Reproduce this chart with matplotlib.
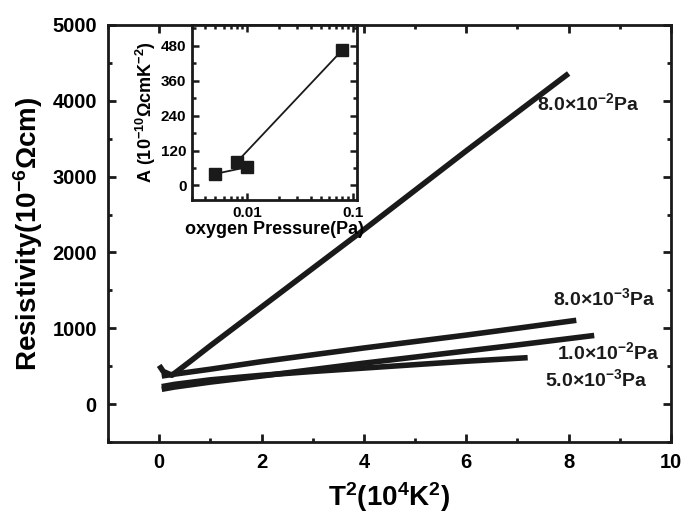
import matplotlib
matplotlib.use("Agg")
import matplotlib.pyplot as plt
from matplotlib.ticker import MultipleLocator, FixedLocator, LogLocator, NullFormatter

plt.rcParams['font.family'] = ['Liberation Sans', 'DejaVu Sans']
plt.rcParams['font.weight'] = 'bold'
plt.rcParams['mathtext.fontset'] = 'custom'
plt.rcParams['mathtext.rm'] = 'Liberation Sans:bold'
plt.rcParams['mathtext.bf'] = 'Liberation Sans:bold'
plt.rcParams['mathtext.default'] = 'bf'

# main panel: resistivity vs T^2, one curve per oxygen pressure
t2_p80 = [0.0, 0.08, 0.25, 0.6, 1.0, 2.0, 3.0, 4.0, 5.0, 6.0, 7.0, 8.0]
rho_p80 = [510, 430, 380, 560, 770, 1280, 1790, 2300, 2820, 3340, 3850, 4360]

t2_p8e3 = [0.05, 0.3, 1.0, 2.0, 3.0, 4.0, 5.0, 6.0, 7.0, 8.15]
rho_p8e3 = [370, 395, 460, 560, 650, 740, 825, 910, 1000, 1105]

t2_p1e2 = [0.05, 0.3, 1.0, 2.0, 3.0, 4.0, 5.0, 6.0, 7.0, 8.5]
rho_p1e2 = [195, 225, 290, 370, 455, 540, 620, 700, 780, 905]

t2_p5e3 = [0.05, 0.3, 1.0, 2.0, 3.0, 4.0, 5.0, 6.0, 7.2]
rho_p5e3 = [230, 260, 320, 380, 430, 475, 520, 565, 612]

curve_labels = [r"8.0×10$^{-2}$Pa", r"8.0×10$^{-3}$Pa",
                r"1.0×10$^{-2}$Pa", r"5.0×10$^{-3}$Pa"]
label_x = [7.39, 7.69, 7.78, 7.53]
label_y = [3970, 1400, 680, 330]

# inset: coefficient A vs oxygen pressure (original plotting order)
pressure = [0.005, 0.01, 0.008, 0.08]
coef_a = [40, 63, 81, 466]

fig = plt.figure(figsize=(6.83, 5.14), dpi=100)
ax = fig.add_axes([0.1581, 0.1401, 0.8243, 0.8113])

for x, y in [(t2_p80, rho_p80), (t2_p8e3, rho_p8e3), (t2_p1e2, rho_p1e2), (t2_p5e3, rho_p5e3)]:
    ax.plot(x, y, color='#1a1a1a', lw=4, solid_capstyle='butt', solid_joinstyle='round')

for lab, lx, ly in zip(curve_labels, label_x, label_y):
    ax.text(lx, ly, lab, fontsize=14, fontweight='bold', va='center', ha='left', color='#1a1a1a')

ax.set_xlim(-1, 10)
ax.set_ylim(-500, 5000)
ax.xaxis.set_major_locator(MultipleLocator(2))
ax.xaxis.set_minor_locator(MultipleLocator(1))
ax.yaxis.set_major_locator(MultipleLocator(1000))
ax.yaxis.set_minor_locator(MultipleLocator(500))
ax.tick_params(which='both', direction='in', top=True, right=True, width=2, color='#1a1a1a')
ax.tick_params(which='major', length=6, labelsize=14.5, pad=8)
ax.tick_params(which='minor', length=3)
for s in ax.spines.values():
    s.set_linewidth(2)
    s.set_color('#1a1a1a')
ax.set_xlabel(r"T$^2$(10$^4$K$^2$)", fontsize=20, fontweight='bold', labelpad=6)
ax.set_ylabel(r"Resistivity(10$^{-6}$Ωcm)", fontsize=20, fontweight='bold', labelpad=5)

# inset
ins = fig.add_axes([0.2811, 0.6109, 0.2416, 0.3405])
ins.plot(pressure, coef_a, color='#1a1a1a', lw=1.3, marker='s', ms=8)
ins.set_xscale('log')
ins.set_xlim(0.003, 0.11)
ins.set_ylim(-50, 552)
ins.xaxis.set_major_locator(FixedLocator([0.01, 0.1]))
ins.xaxis.set_minor_locator(LogLocator(base=10, subs=range(2, 10)))
ins.xaxis.set_minor_formatter(NullFormatter())
ins.set_xticklabels(['0.01', '0.1'])
ins.yaxis.set_major_locator(MultipleLocator(120))
ins.yaxis.set_minor_locator(MultipleLocator(60))
ins.tick_params(which='both', direction='in', top=True, right=True, width=1.8, color='#1a1a1a')
ins.tick_params(which='major', length=5, labelsize=11, pad=4)
ins.tick_params(which='minor', length=3)
for s in ins.spines.values():
    s.set_linewidth(2)
    s.set_color('#1a1a1a')
ins.set_xlabel("oxygen Pressure(Pa)", fontsize=13, fontweight='bold', labelpad=1)
ins.set_ylabel(r"A (10$^{-10}$ΩcmK$^{-2}$)", fontsize=13, fontweight='bold', labelpad=2)

fig.savefig("out.png", dpi=100)
